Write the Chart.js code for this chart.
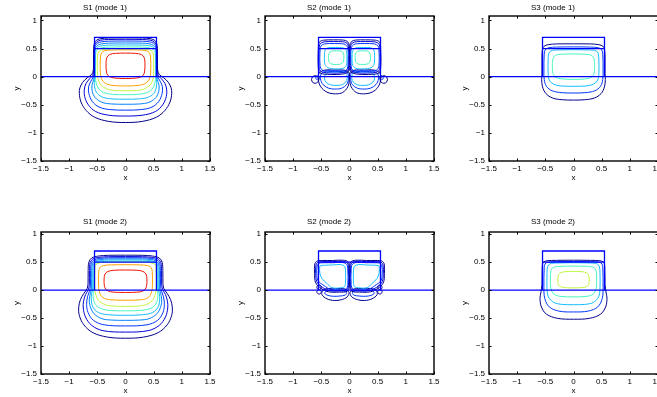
<!DOCTYPE html>
<html>
<head>
<meta charset="utf-8">
<script src="https://cdn.jsdelivr.net/npm/chart.js@4.4.1/dist/chart.umd.min.js"></script>
<style>
  html, body { margin: 0; padding: 0; background: #fff; overflow: hidden; width: 657px; height: 397px; }
  canvas { position: absolute; }
</style>
</head>
<body>
<script>
// axis ticks
const xTicks = [-1.5, -1, -0.5, 0, 0.5, 1, 1.5];
const yTicks = [-1.5, -1, -0.5, 0, 0.5, 1];
const panelTitles = ['S1 (mode 1)', 'S2 (mode 1)', 'S3 (mode 1)', 'S1 (mode 2)', 'S2 (mode 2)', 'S3 (mode 2)'];

// waveguide outline
const ribOutline = [[-0.55, 0], [-0.55, 0.7], [0.55, 0.7], [0.55, 0]];
const ribLayer = [[-0.55, 0.5], [0.55, 0.5]];
const slabLine = [[-1.5, 0], [1.5, 0]];

// contours: [level, [x0,y0, x1,y1, ...]]
const s1m1 = [
  [1, [0,0.69, 0.3,0.688, 0.45,0.675, 0.52,0.645, 0.553,0.59, 0.565,0.5, 0.567,0.3, 0.57,0.12, 0.6,0.04, 0.68,-0.02, 0.76,-0.1, 0.81,-0.2, 0.82,-0.3, 0.79,-0.45, 0.7,-0.6, 0.55,-0.72, 0.3,-0.795, 0,-0.815, -0.3,-0.795, -0.55,-0.72, -0.7,-0.6, -0.79,-0.45, -0.82,-0.3, -0.81,-0.2, -0.76,-0.1, -0.68,-0.02, -0.6,0.04, -0.57,0.12, -0.567,0.3, -0.565,0.5, -0.553,0.59, -0.52,0.645, -0.45,0.675, -0.3,0.688, 0,0.69]],
  [2, [0,0.665, 0.3,0.662, 0.44,0.65, 0.51,0.62, 0.545,0.57, 0.558,0.5, 0.56,0.3, 0.562,0.1, 0.585,0.02, 0.64,-0.04, 0.7,-0.12, 0.73,-0.22, 0.725,-0.35, 0.66,-0.5, 0.53,-0.62, 0.3,-0.685, 0,-0.7, -0.3,-0.685, -0.53,-0.62, -0.66,-0.5, -0.725,-0.35, -0.73,-0.22, -0.7,-0.12, -0.64,-0.04, -0.585,0.02, -0.562,0.1, -0.56,0.3, -0.558,0.5, -0.545,0.57, -0.51,0.62, -0.44,0.65, -0.3,0.662, 0,0.665]],
  [3, [0,0.635, 0.3,0.632, 0.43,0.62, 0.5,0.595, 0.538,0.55, 0.553,0.48, 0.555,0.1, 0.57,0, 0.615,-0.08, 0.655,-0.18, 0.65,-0.3, 0.59,-0.44, 0.47,-0.54, 0.28,-0.585, 0,-0.595, -0.28,-0.585, -0.47,-0.54, -0.59,-0.44, -0.65,-0.3, -0.655,-0.18, -0.615,-0.08, -0.57,0, -0.555,0.1, -0.553,0.48, -0.538,0.55, -0.5,0.595, -0.43,0.62, -0.3,0.632, 0,0.635]],
  [4, [0,0.6, 0.3,0.597, 0.42,0.585, 0.49,0.562, 0.53,0.525, 0.547,0.46, 0.55,0.05, 0.565,-0.05, 0.595,-0.15, 0.59,-0.26, 0.54,-0.37, 0.42,-0.455, 0.25,-0.485, 0,-0.49, -0.25,-0.485, -0.42,-0.455, -0.54,-0.37, -0.59,-0.26, -0.595,-0.15, -0.565,-0.05, -0.55,0.05, -0.547,0.46, -0.53,0.525, -0.49,0.562, -0.42,0.585, -0.3,0.597, 0,0.6]],
  [5, [0,0.565, 0.3,0.562, 0.41,0.552, 0.48,0.533, 0.523,0.5, 0.542,0.44, 0.545,0, 0.555,-0.1, 0.545,-0.2, 0.5,-0.3, 0.39,-0.37, 0.22,-0.396, 0,-0.4, -0.22,-0.396, -0.39,-0.37, -0.5,-0.3, -0.545,-0.2, -0.555,-0.1, -0.545,0, -0.542,0.44, -0.523,0.5, -0.48,0.533, -0.41,0.552, -0.3,0.562, 0,0.565]],
  [6, [0,0.53, 0.3,0.527, 0.4,0.518, 0.465,0.5, 0.51,0.47, 0.53,0.41, 0.535,0, 0.525,-0.1, 0.485,-0.2, 0.39,-0.28, 0.21,-0.315, 0,-0.32, -0.21,-0.315, -0.39,-0.28, -0.485,-0.2, -0.525,-0.1, -0.535,0, -0.53,0.41, -0.51,0.47, -0.465,0.5, -0.4,0.518, -0.3,0.527, 0,0.53]],
  [7, [0,0.495, 0.3,0.492, 0.42,0.478, 0.475,0.448, 0.497,0.38, 0.5,0.1, 0.49,-0.03, 0.45,-0.13, 0.35,-0.21, 0.2,-0.245, 0,-0.25, -0.2,-0.245, -0.35,-0.21, -0.45,-0.13, -0.49,-0.03, -0.5,0.1, -0.497,0.38, -0.475,0.448, -0.42,0.478, -0.3,0.492, 0,0.495]],
  [8, [0,0.478, 0.25,0.475, 0.37,0.462, 0.425,0.425, 0.445,0.35, 0.447,0.08, 0.428,-0.03, 0.37,-0.11, 0.25,-0.152, 0,-0.165, -0.25,-0.152, -0.37,-0.11, -0.428,-0.03, -0.447,0.08, -0.445,0.35, -0.425,0.425, -0.37,0.462, -0.25,0.475, 0,0.478]],
  [9, [0,0.42, 0.18,0.415, 0.28,0.395, 0.33,0.345, 0.345,0.25, 0.34,0.1, 0.315,0.025, 0.25,-0.013, 0.12,-0.03, 0,-0.032, -0.12,-0.03, -0.25,-0.013, -0.315,0.025, -0.34,0.1, -0.345,0.25, -0.33,0.345, -0.28,0.395, -0.18,0.415, 0,0.42]]
];

const s2m1 = [
  [6, [0.235,0.46, 0.32,0.455, 0.362,0.42, 0.372,0.34, 0.36,0.26, 0.31,0.224, 0.235,0.218, 0.16,0.224, 0.112,0.26, 0.1,0.34, 0.108,0.42, 0.15,0.455, 0.235,0.46]],
  [6, [-0.235,0.46, -0.15,0.455, -0.108,0.42, -0.1,0.34, -0.112,0.26, -0.16,0.224, -0.235,0.218, -0.31,0.224, -0.36,0.26, -0.372,0.34, -0.362,0.42, -0.32,0.455, -0.235,0.46]],
  [5, [0.245,0.52, 0.38,0.515, 0.43,0.48, 0.445,0.38, 0.435,0.22, 0.385,0.16, 0.245,0.14, 0.11,0.15, 0.058,0.2, 0.046,0.35, 0.058,0.47, 0.11,0.512, 0.245,0.52]],
  [5, [-0.245,0.52, -0.11,0.512, -0.058,0.47, -0.046,0.35, -0.058,0.2, -0.11,0.15, -0.245,0.14, -0.385,0.16, -0.435,0.22, -0.445,0.38, -0.43,0.48, -0.38,0.515, -0.245,0.52]],
  [3, [0.27,0.59, 0.44,0.585, 0.505,0.55, 0.522,0.48, 0.522,0.2, 0.485,0.12, 0.3,0.092, 0.1,0.1, 0.04,0.14, 0.026,0.3, 0.03,0.5, 0.07,0.57, 0.14,0.587, 0.27,0.59]],
  [3, [-0.27,0.59, -0.14,0.587, -0.07,0.57, -0.03,0.5, -0.026,0.3, -0.04,0.14, -0.1,0.1, -0.3,0.092, -0.485,0.12, -0.522,0.2, -0.522,0.48, -0.505,0.55, -0.44,0.585, -0.27,0.59]],
  [2, [0.28,0.625, 0.45,0.62, 0.52,0.585, 0.54,0.5, 0.54,0.17, 0.5,0.09, 0.32,0.065, 0.11,0.072, 0.03,0.11, 0.015,0.3, 0.018,0.53, 0.05,0.6, 0.12,0.622, 0.28,0.625]],
  [2, [-0.28,0.625, -0.12,0.622, -0.05,0.6, -0.018,0.53, -0.015,0.3, -0.03,0.11, -0.11,0.072, -0.32,0.065, -0.5,0.09, -0.54,0.17, -0.54,0.5, -0.52,0.585, -0.45,0.62, -0.28,0.625]],
  [1, [0.28,0.655, 0.46,0.65, 0.535,0.615, 0.552,0.53, 0.553,0.15, 0.52,0.065, 0.34,0.04, 0.12,0.048, 0.025,0.085, 0.006,0.2, 0.006,0.55, 0.035,0.625, 0.11,0.652, 0.28,0.655]],
  [1, [-0.28,0.655, -0.11,0.652, -0.035,0.625, -0.006,0.55, -0.006,0.2, -0.025,0.085, -0.12,0.048, -0.34,0.04, -0.52,0.065, -0.553,0.15, -0.552,0.53, -0.535,0.615, -0.46,0.65, -0.28,0.655]],
  [5, [0.24,0.085, 0.37,0.078, 0.43,0.04, 0.445,-0.03, 0.415,-0.1, 0.335,-0.145, 0.24,-0.155, 0.145,-0.145, 0.07,-0.1, 0.04,-0.03, 0.05,0.04, 0.1,0.075, 0.24,0.085]],
  [5, [-0.24,0.085, -0.1,0.075, -0.05,0.04, -0.04,-0.03, -0.07,-0.1, -0.145,-0.145, -0.24,-0.155, -0.335,-0.145, -0.415,-0.1, -0.445,-0.03, -0.43,0.04, -0.37,0.078, -0.24,0.085]],
  [3, [0.26,0.105, 0.42,0.1, 0.5,0.05, 0.515,-0.04, 0.47,-0.14, 0.37,-0.205, 0.26,-0.22, 0.14,-0.205, 0.05,-0.14, 0.02,-0.04, 0.03,0.06, 0.1,0.1, 0.26,0.105]],
  [3, [-0.26,0.105, -0.1,0.1, -0.03,0.06, -0.02,-0.04, -0.05,-0.14, -0.14,-0.205, -0.26,-0.22, -0.37,-0.205, -0.47,-0.14, -0.515,-0.04, -0.5,0.05, -0.42,0.1, -0.26,0.105]],
  [1, [0.27,0.12, 0.45,0.115, 0.54,0.06, 0.555,-0.04, 0.51,-0.18, 0.4,-0.275, 0.25,-0.305, 0.12,-0.28, 0.03,-0.18, 0.005,-0.05, 0.01,0.07, 0.08,0.115, 0.27,0.12]],
  [1, [-0.27,0.12, -0.08,0.115, -0.01,0.07, -0.005,-0.05, -0.03,-0.18, -0.12,-0.28, -0.25,-0.305, -0.4,-0.275, -0.51,-0.18, -0.555,-0.04, -0.54,0.06, -0.45,0.115, -0.27,0.12]],
  [1, [0.675,-0.05, 0.655,-0.1, 0.61,-0.117, 0.565,-0.1, 0.545,-0.05, 0.565,0, 0.61,0.017, 0.655,0, 0.675,-0.05]],
  [1, [-0.675,-0.05, -0.655,0, -0.61,0.017, -0.565,0, -0.545,-0.05, -0.565,-0.1, -0.61,-0.117, -0.655,-0.1, -0.675,-0.05]],
  [3, [0.6,-0.02, 0.59,-0.045, 0.565,-0.055, 0.54,-0.045, 0.53,-0.02, 0.54,0.005, 0.565,0.015, 0.59,0.005, 0.6,-0.02]],
  [3, [-0.6,-0.02, -0.59,0.005, -0.565,0.015, -0.54,0.005, -0.53,-0.02, -0.54,-0.045, -0.565,-0.055, -0.59,-0.045, -0.6,-0.02]],
  [1, [0.03,0.15, 0.021,0.171, 0,0.18, -0.021,0.171, -0.03,0.15, -0.021,0.129, 0,0.12, 0.021,0.129, 0.03,0.15]]
];

const s3m1 = [
  [1, [0,0.585, 0.3,0.583, 0.45,0.57, 0.525,0.54, 0.553,0.48, 0.56,0.3, 0.56,0.05, 0.565,-0.05, 0.55,-0.18, 0.49,-0.3, 0.37,-0.38, 0.2,-0.41, 0,-0.416, -0.2,-0.41, -0.37,-0.38, -0.49,-0.3, -0.55,-0.18, -0.565,-0.05, -0.56,0.05, -0.56,0.3, -0.553,0.48, -0.525,0.54, -0.45,0.57, -0.3,0.583, 0,0.585]],
  [3, [0,0.53, 0.3,0.527, 0.44,0.515, 0.5,0.48, 0.52,0.4, 0.525,0.1, 0.52,-0.05, 0.48,-0.17, 0.38,-0.25, 0.2,-0.285, 0,-0.29, -0.2,-0.285, -0.38,-0.25, -0.48,-0.17, -0.52,-0.05, -0.525,0.1, -0.52,0.4, -0.5,0.48, -0.44,0.515, -0.3,0.527, 0,0.53]],
  [5, [0,0.48, 0.3,0.475, 0.4,0.46, 0.44,0.41, 0.45,0.3, 0.45,0.05, 0.43,-0.06, 0.36,-0.13, 0.22,-0.165, 0,-0.17, -0.22,-0.165, -0.36,-0.13, -0.43,-0.06, -0.45,0.05, -0.45,0.3, -0.44,0.41, -0.4,0.46, -0.3,0.475, 0,0.48]],
  [6, [0,0.405, 0.2,0.4, 0.31,0.385, 0.36,0.33, 0.375,0.2, 0.365,0.06, 0.32,-0.01, 0.2,-0.04, 0,-0.047, -0.2,-0.04, -0.32,-0.01, -0.365,0.06, -0.375,0.2, -0.36,0.33, -0.31,0.385, -0.2,0.4, 0,0.405]]
];

const s1m2 = [
  [1, [0,0.625, 0.3,0.623, 0.48,0.61, 0.6,0.575, 0.65,0.5, 0.663,0.35, 0.665,0.12, 0.68,0.03, 0.74,-0.06, 0.8,-0.17, 0.83,-0.3, 0.82,-0.45, 0.74,-0.62, 0.58,-0.76, 0.32,-0.84, 0,-0.86, -0.32,-0.84, -0.58,-0.76, -0.74,-0.62, -0.82,-0.45, -0.83,-0.3, -0.8,-0.17, -0.74,-0.06, -0.68,0.03, -0.665,0.12, -0.663,0.35, -0.65,0.5, -0.6,0.575, -0.48,0.61, -0.3,0.623, 0,0.625]],
  [2, [0,0.6, 0.3,0.598, 0.47,0.587, 0.58,0.557, 0.628,0.49, 0.64,0.35, 0.642,0.1, 0.66,0.01, 0.71,-0.08, 0.745,-0.2, 0.75,-0.32, 0.71,-0.48, 0.6,-0.63, 0.4,-0.725, 0,-0.75, -0.4,-0.725, -0.6,-0.63, -0.71,-0.48, -0.75,-0.32, -0.745,-0.2, -0.71,-0.08, -0.66,0.01, -0.642,0.1, -0.64,0.35, -0.628,0.49, -0.58,0.557, -0.47,0.587, -0.3,0.598, 0,0.6]],
  [3, [0,0.58, 0.3,0.578, 0.46,0.567, 0.56,0.54, 0.607,0.48, 0.62,0.35, 0.622,0.08, 0.64,-0.02, 0.675,-0.12, 0.69,-0.26, 0.665,-0.4, 0.57,-0.54, 0.38,-0.62, 0,-0.64, -0.38,-0.62, -0.57,-0.54, -0.665,-0.4, -0.69,-0.26, -0.675,-0.12, -0.64,-0.02, -0.622,0.08, -0.62,0.35, -0.607,0.48, -0.56,0.54, -0.46,0.567, -0.3,0.578, 0,0.58]],
  [4, [0,0.56, 0.3,0.558, 0.45,0.548, 0.545,0.522, 0.588,0.47, 0.6,0.35, 0.602,0.06, 0.62,-0.04, 0.643,-0.16, 0.63,-0.28, 0.56,-0.42, 0.42,-0.51, 0.25,-0.535, 0,-0.54, -0.25,-0.535, -0.42,-0.51, -0.56,-0.42, -0.63,-0.28, -0.643,-0.16, -0.62,-0.04, -0.602,0.06, -0.6,0.35, -0.588,0.47, -0.545,0.522, -0.45,0.548, -0.3,0.558, 0,0.56]],
  [5, [0,0.54, 0.3,0.538, 0.44,0.528, 0.53,0.505, 0.57,0.455, 0.58,0.35, 0.582,0.04, 0.6,-0.06, 0.608,-0.16, 0.58,-0.3, 0.48,-0.4, 0.3,-0.44, 0,-0.45, -0.3,-0.44, -0.48,-0.4, -0.58,-0.3, -0.608,-0.16, -0.6,-0.06, -0.582,0.04, -0.58,0.35, -0.57,0.455, -0.53,0.505, -0.44,0.528, -0.3,0.538, 0,0.54]],
  [6, [0,0.52, 0.3,0.518, 0.43,0.508, 0.515,0.487, 0.553,0.44, 0.562,0.35, 0.565,0.02, 0.575,-0.08, 0.56,-0.2, 0.49,-0.3, 0.34,-0.355, 0,-0.37, -0.34,-0.355, -0.49,-0.3, -0.56,-0.2, -0.575,-0.08, -0.565,0.02, -0.562,0.35, -0.553,0.44, -0.515,0.487, -0.43,0.508, -0.3,0.518, 0,0.52]],
  [7, [0,0.505, 0.3,0.502, 0.45,0.49, 0.525,0.455, 0.542,0.38, 0.545,0.05, 0.53,-0.07, 0.48,-0.18, 0.36,-0.26, 0.2,-0.286, 0,-0.29, -0.2,-0.286, -0.36,-0.26, -0.48,-0.18, -0.53,-0.07, -0.545,0.05, -0.542,0.38, -0.525,0.455, -0.45,0.49, -0.3,0.502, 0,0.505]],
  [8, [0,0.455, 0.25,0.452, 0.39,0.44, 0.455,0.405, 0.475,0.33, 0.477,0.06, 0.458,-0.05, 0.4,-0.135, 0.27,-0.172, 0,-0.18, -0.27,-0.172, -0.4,-0.135, -0.458,-0.05, -0.477,0.06, -0.475,0.33, -0.455,0.405, -0.39,0.44, -0.25,0.452, 0,0.455]],
  [9, [0,0.36, 0.2,0.356, 0.31,0.335, 0.365,0.285, 0.38,0.2, 0.375,0.08, 0.345,0.01, 0.27,-0.028, 0.13,-0.04, 0,-0.042, -0.13,-0.04, -0.27,-0.028, -0.345,0.01, -0.375,0.08, -0.38,0.2, -0.365,0.285, -0.31,0.335, -0.2,0.356, 0,0.36]]
];

const s2m2 = [
  [5, [-0.3,0.45, -0.161,0.458, -0.09,0.43, -0.071,0.357, -0.071,0.119, -0.09,0.06, -0.161,0.042, -0.31,0.042, -0.4,0.12, -0.488,0.208, -0.525,0.3, -0.53,0.387, -0.52,0.434, -0.45,0.445, -0.3,0.45]],
  [5, [0.3,0.45, 0.45,0.445, 0.52,0.434, 0.53,0.387, 0.525,0.3, 0.488,0.208, 0.4,0.12, 0.31,0.042, 0.161,0.042, 0.09,0.06, 0.071,0.119, 0.071,0.357, 0.09,0.43, 0.161,0.458, 0.3,0.45]],
  [3, [-0.3,0.49, -0.13,0.495, -0.05,0.46, -0.03,0.36, -0.03,0.1, -0.06,0.02, -0.17,0.005, -0.33,0.01, -0.45,0.08, -0.56,0.17, -0.58,0.3, -0.575,0.43, -0.54,0.48, -0.45,0.49, -0.3,0.49]],
  [3, [0.3,0.49, 0.45,0.49, 0.54,0.48, 0.575,0.43, 0.58,0.3, 0.56,0.17, 0.45,0.08, 0.33,0.01, 0.17,0.005, 0.06,0.02, 0.03,0.1, 0.03,0.36, 0.05,0.46, 0.13,0.495, 0.3,0.49]],
  [2, [-0.3,0.51, -0.12,0.515, -0.035,0.48, -0.018,0.36, -0.018,0.08, -0.05,0, -0.18,-0.015, -0.35,-0.01, -0.48,0.05, -0.58,0.15, -0.6,0.3, -0.595,0.45, -0.56,0.5, -0.46,0.51, -0.3,0.51]],
  [2, [0.3,0.51, 0.46,0.51, 0.56,0.5, 0.595,0.45, 0.6,0.3, 0.58,0.15, 0.48,0.05, 0.35,-0.01, 0.18,-0.015, 0.05,0, 0.018,0.08, 0.018,0.36, 0.035,0.48, 0.12,0.515, 0.3,0.51]],
  [1, [-0.3,0.53, -0.11,0.535, -0.02,0.5, -0.006,0.36, -0.006,0.06, -0.04,-0.02, -0.18,-0.035, -0.37,-0.03, -0.5,0.03, -0.6,0.13, -0.62,0.3, -0.615,0.47, -0.575,0.52, -0.47,0.53, -0.3,0.53]],
  [1, [0.3,0.53, 0.47,0.53, 0.575,0.52, 0.615,0.47, 0.62,0.3, 0.6,0.13, 0.5,0.03, 0.37,-0.03, 0.18,-0.035, 0.04,-0.02, 0.006,0.06, 0.006,0.36, 0.02,0.5, 0.11,0.535, 0.3,0.53]],
  [1, [-0.25,0.03, -0.08,0.02, -0.01,-0.04, -0.04,-0.12, -0.14,-0.17, -0.27,-0.185, -0.4,-0.155, -0.49,-0.08, -0.47,0, -0.38,0.03, -0.25,0.03]],
  [1, [0.25,0.03, 0.38,0.03, 0.47,0, 0.49,-0.08, 0.4,-0.155, 0.27,-0.185, 0.14,-0.17, 0.04,-0.12, 0.01,-0.04, 0.08,0.02, 0.25,0.03]],
  [3, [-0.25,0, -0.1,-0.01, -0.05,-0.05, -0.08,-0.09, -0.17,-0.105, -0.28,-0.11, -0.38,-0.095, -0.44,-0.055, -0.4,-0.01, -0.25,0]],
  [3, [0.25,0, 0.4,-0.01, 0.44,-0.055, 0.38,-0.095, 0.28,-0.11, 0.17,-0.105, 0.08,-0.09, 0.05,-0.05, 0.1,-0.01, 0.25,0]],
  [1, [-0.5,0.05, -0.512,0.078, -0.54,0.09, -0.568,0.078, -0.58,0.05, -0.568,0.022, -0.54,0.01, -0.512,0.022, -0.5,0.05]],
  [1, [-0.5,-0.03, -0.512,-0.002, -0.54,0.01, -0.568,-0.002, -0.58,-0.03, -0.568,-0.058, -0.54,-0.07, -0.512,-0.058, -0.5,-0.03]],
  [1, [0.58,0.05, 0.568,0.078, 0.54,0.09, 0.512,0.078, 0.5,0.05, 0.512,0.022, 0.54,0.01, 0.568,0.022, 0.58,0.05]],
  [1, [0.58,-0.03, 0.568,-0.002, 0.54,0.01, 0.512,-0.002, 0.5,-0.03, 0.512,-0.058, 0.54,-0.07, 0.568,-0.058, 0.58,-0.03]]
];

const s3m2 = [
  [1, [0,0.535, 0.3,0.533, 0.47,0.525, 0.535,0.5, 0.555,0.43, 0.56,0.1, 0.58,-0.05, 0.595,-0.15, 0.57,-0.3, 0.48,-0.43, 0.28,-0.505, 0,-0.52, -0.28,-0.505, -0.48,-0.43, -0.57,-0.3, -0.595,-0.15, -0.58,-0.05, -0.56,0.1, -0.555,0.43, -0.535,0.5, -0.47,0.525, -0.3,0.533, 0,0.535]],
  [3, [0,0.512, 0.3,0.51, 0.45,0.5, 0.505,0.47, 0.52,0.4, 0.525,0.05, 0.51,-0.15, 0.43,-0.3, 0.26,-0.375, 0,-0.39, -0.26,-0.375, -0.43,-0.3, -0.51,-0.15, -0.525,0.05, -0.52,0.4, -0.505,0.47, -0.45,0.5, -0.3,0.51, 0,0.512]],
  [5, [0,0.49, 0.3,0.485, 0.42,0.47, 0.46,0.42, 0.47,0.3, 0.47,0.02, 0.445,-0.12, 0.35,-0.22, 0.2,-0.255, 0,-0.26, -0.2,-0.255, -0.35,-0.22, -0.445,-0.12, -0.47,0.02, -0.47,0.3, -0.46,0.42, -0.42,0.47, -0.3,0.485, 0,0.49]],
  [6, [0,0.43, 0.25,0.425, 0.36,0.405, 0.4,0.35, 0.41,0.2, 0.4,0.03, 0.35,-0.07, 0.22,-0.113, 0,-0.12, -0.22,-0.113, -0.35,-0.07, -0.4,0.03, -0.41,0.2, -0.4,0.35, -0.36,0.405, -0.25,0.425, 0,0.43]],
  [7, [0,0.335, 0.15,0.33, 0.24,0.305, 0.273,0.25, 0.278,0.15, 0.26,0.08, 0.19,0.05, 0.1,0.042, 0,0.04, -0.1,0.042, -0.19,0.05, -0.26,0.08, -0.278,0.15, -0.273,0.25, -0.24,0.305, -0.15,0.33, 0,0.335]]
];

const panelContours = [s1m1, s2m1, s3m1, s1m2, s2m2, s3m2];

// jet-like colours per contour level
const levelColors = ['#00008c', '#0000d6', '#0036ff', '#0080ff', '#14bcff', '#46f5c0', '#c4f540', '#ffa000', '#f01400'];
const GEOM_COLOR = '#0000ff';

// layout (px)
const COL_X = [41, 265, 489];
const ROW_Y = [16, 232];
const ROW_H = [145, 142];
const Y_MAX = [1.08, 1.04];
const TITLE_PAD = [{top: 3.2, bottom: 3.2}, {top: 0.9, bottom: 5.5}];
const PLOT_W = 169, Y_AXIS_W = 41, X_AXIS_H = 24, TITLE_H = 16, RIGHT_PAD = 16, TICK = 2.5;
const FONT = {family: '"Liberation Sans", Arial, Helvetica, sans-serif', size: 8, weight: 'normal'};

const fmt = v => (v < 0 ? '\u2212' : '') + Math.abs(v);
const toPts = flat => {
  const out = [];
  for (let i = 0; i < flat.length; i += 2) out.push({x: flat[i], y: flat[i + 1]});
  return out;
};
const pairPts = arr => arr.map(p => ({x: p[0], y: p[1]}));

const framePlugin = {
  id: 'frame',
  afterDraw(chart) {
    const {ctx, chartArea: a, scales: {x, y}} = chart;
    ctx.save();
    ctx.strokeStyle = '#000';
    ctx.lineWidth = 1;
    ctx.beginPath();
    xTicks.forEach(v => {
      const px = Math.round(x.getPixelForValue(v)) + 0.5;
      ctx.moveTo(px, a.bottom); ctx.lineTo(px, a.bottom - TICK);
      ctx.moveTo(px, a.top); ctx.lineTo(px, a.top + TICK);
    });
    yTicks.forEach(v => {
      const py = Math.round(y.getPixelForValue(v)) + 0.5;
      ctx.moveTo(a.left, py); ctx.lineTo(a.left + TICK, py);
      ctx.moveTo(a.right, py); ctx.lineTo(a.right - TICK, py);
    });
    ctx.stroke();
    ctx.lineWidth = 1.4;
    ctx.strokeRect(a.left, a.top, a.right - a.left, a.bottom - a.top);
    ctx.restore();
  }
};

function makePanel(idx) {
  const col = idx % 3, row = Math.floor(idx / 3);
  const canvas = document.createElement('canvas');
  canvas.width = Y_AXIS_W + PLOT_W + RIGHT_PAD;
  canvas.height = TITLE_H + ROW_H[row] + X_AXIS_H;
  canvas.style.left = (COL_X[col] - Y_AXIS_W) + 'px';
  canvas.style.top = (ROW_Y[row] - TITLE_H) + 'px';
  document.body.appendChild(canvas);

  const geom = [slabLine, ribLayer, ribOutline].map(g => ({
    data: pairPts(g), showLine: true, borderColor: GEOM_COLOR, borderWidth: 1.3,
    pointRadius: 0, tension: 0, fill: false
  }));
  const contours = panelContours[idx].map(([lvl, flat]) => ({
    data: toPts(flat), showLine: true, borderColor: levelColors[lvl - 1], borderWidth: 1,
    pointRadius: 0, tension: 0.35, fill: false
  }));

  new Chart(canvas, {
    type: 'scatter',
    data: {datasets: geom.concat(contours)},
    options: {
      responsive: false,
      animation: false,
      devicePixelRatio: 1,
      events: [],
      layout: {padding: {left: 0, top: 0, right: RIGHT_PAD, bottom: 0}},
      plugins: {
        legend: {display: false},
        tooltip: {enabled: false},
        title: {display: true, text: panelTitles[idx], color: '#000', font: FONT, padding: TITLE_PAD[row]}
      },
      scales: {
        x: {
          type: 'linear', min: -1.5, max: 1.5,
          afterBuildTicks: s => { s.ticks = xTicks.map(v => ({value: v})); },
          afterFit: s => { s.height = X_AXIS_H; },
          grid: {display: false, drawTicks: false},
          border: {display: false},
          ticks: {color: '#000', font: FONT, padding: 3, maxRotation: 0, autoSkip: false, callback: fmt},
          title: {display: true, text: 'x', color: '#000', font: FONT, padding: {top: 0, bottom: 2.2}}
        },
        y: {
          type: 'linear', min: -1.5, max: Y_MAX[row],
          afterBuildTicks: s => { s.ticks = yTicks.map(v => ({value: v})); },
          afterFit: s => { s.width = Y_AXIS_W; },
          grid: {display: false, drawTicks: false},
          border: {display: false},
          ticks: {color: '#000', font: FONT, padding: 4, autoSkip: false, callback: fmt},
          title: {display: true, text: 'y', color: '#000', font: FONT, padding: {top: 12.2, bottom: 0}}
        }
      }
    },
    plugins: [framePlugin]
  });
}

for (let i = 0; i < 6; i++) makePanel(i);
</script>
</body>
</html>
